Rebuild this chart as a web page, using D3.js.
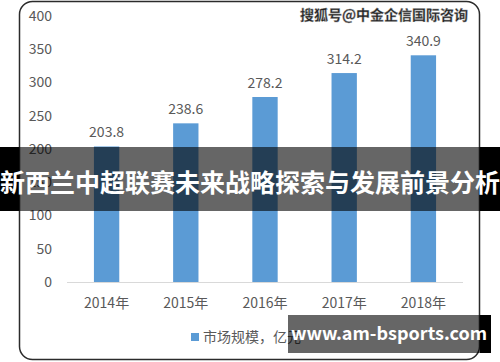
<!DOCTYPE html>
<html>
<head>
<meta charset="utf-8">
<script src="https://cdn.jsdelivr.net/npm/d3@7"></script>
<style>
    body { margin: 0; background: #fff; }
    text { font-family: "Noto Sans CJK SC", "Noto Sans", sans-serif; }
</style>
</head>
<body>
<div id="plot"></div>
<script>
var years = ['2014年', '2015年', '2016年', '2017年', '2018年'];
var marketSize = [203.8, 238.6, 278.2, 314.2, 340.9];
var yTicks = [0, 50, 100, 150, 200, 250, 300, 350, 400];
var legendLabel = '市场规模，亿元';
var titleText = '新西兰中超联赛未来战略探索与发展前景分析';
var sourceText = '搜狐号@中金企信国际咨询';
var siteText = 'www.am-bsports.com';

var W = 500, H = 362;
var svg = d3.select('#plot').append('svg')
    .attr('width', W)
    .attr('height', H);

// chart frame (rounded)
svg.append('rect')
    .attr('x', 19.5).attr('y', 1.5)
    .attr('width', 460).attr('height', 358)
    .attr('rx', 13).attr('ry', 13)
    .attr('fill', '#fff')
    .attr('stroke', '#2b2b2b')
    .attr('stroke-width', 1.5);

var x = d3.scaleBand()
    .domain(years)
    .range([67, 463])
    .paddingInner(0.68)
    .paddingOuter(0.34);

var y = d3.scaleLinear()
    .domain([0, 400])
    .range([282, 16]);

// y tick labels
svg.append('g').selectAll('text')
    .data(yTicks)
    .enter()
    .append('text')
    .attr('x', 52)
    .attr('y', function (d) { return y(d); })
    .attr('dy', '0.35em')
    .attr('text-anchor', 'end')
    .attr('font-size', 14)
    .attr('fill', '#595959')
    .text(function (d) { return d; });

// bars
svg.append('g').selectAll('rect')
    .data(marketSize)
    .enter()
    .append('rect')
    .attr('x', function (d, i) { return x(years[i]); })
    .attr('y', function (d) { return y(d); })
    .attr('width', x.bandwidth())
    .attr('height', function (d) { return y(0) - y(d); })
    .attr('fill', '#5b9bd5');

// value labels
svg.append('g').selectAll('text')
    .data(marketSize)
    .enter()
    .append('text')
    .attr('x', function (d, i) { return x(years[i]) + x.bandwidth() / 2; })
    .attr('y', function (d) { return y(d) - 9; })
    .attr('text-anchor', 'middle')
    .attr('font-size', 14)
    .attr('fill', '#595959')
    .text(function (d) { return d.toFixed(1); });

// x axis line
svg.append('line')
    .attr('x1', 67).attr('x2', 463)
    .attr('y1', y(0) + 0.5).attr('y2', y(0) + 0.5)
    .attr('stroke', '#d9d9d9');

// x labels
svg.append('g').selectAll('text')
    .data(years)
    .enter()
    .append('text')
    .attr('x', function (d) { return x(d) + x.bandwidth() / 2; })
    .attr('y', 303)
    .attr('dy', '0.35em')
    .attr('text-anchor', 'middle')
    .attr('font-size', 14)
    .attr('fill', '#595959')
    .text(function (d) { return d; });

// legend
svg.append('rect')
    .attr('x', 191).attr('y', 333)
    .attr('width', 8).attr('height', 8)
    .attr('fill', '#5b9bd5');
svg.append('text')
    .attr('x', 203).attr('y', 337)
    .attr('dy', '0.35em')
    .attr('font-size', 14)
    .attr('fill', '#595959')
    .text(legendLabel);

// source watermark
svg.append('text')
    .attr('x', 468).attr('y', 15)
    .attr('dy', '0.35em')
    .attr('text-anchor', 'end')
    .attr('font-size', 14)
    .attr('font-weight', 'bold')
    .attr('fill', '#222')
    .attr('stroke', '#999')
    .attr('stroke-width', 0.4)
    .text(sourceText);

// banner: semi-transparent black over the chart, solid black outside it
function banner(x0, y0, w, h) {
    var x1 = Math.max(x0, 19), x2 = Math.min(x0 + w, 480);
    if (x0 < x1) {
        svg.append('rect').attr('x', x0).attr('y', y0)
            .attr('width', x1 - x0).attr('height', h).attr('fill', '#000');
    }
    if (x0 + w > x2) {
        svg.append('rect').attr('x', x2).attr('y', y0)
            .attr('width', x0 + w - x2).attr('height', h).attr('fill', '#000');
    }
    svg.append('rect').attr('x', x1).attr('y', y0)
        .attr('width', x2 - x1).attr('height', h)
        .attr('fill', '#000').attr('fill-opacity', 0.6);
}

banner(0, 147, W, 64);
svg.append('text')
    .attr('x', W / 2).attr('y', 183)
    .attr('dy', '0.35em')
    .attr('text-anchor', 'middle')
    .attr('font-size', 25)
    .attr('font-weight', 'bold')
    .attr('fill', '#fff')
    .text(titleText);

banner(288, 315, 203, 38);
svg.append('text')
    .attr('x', 389).attr('y', 334)
    .attr('dy', '0.35em')
    .attr('text-anchor', 'middle')
    .attr('font-size', 18)
    .attr('font-weight', 'bold')
    .attr('fill', '#fff')
    .text(siteText);
</script>
</body>
</html>
